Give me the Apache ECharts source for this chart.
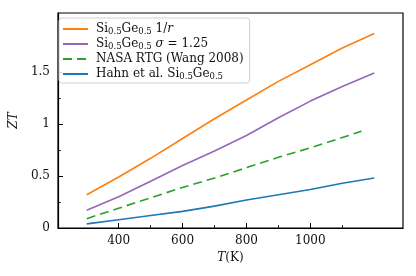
<!DOCTYPE html>
<html>
<head>
<meta charset="utf-8">
<script src="https://cdn.jsdelivr.net/npm/echarts@6/dist/echarts.min.js"></script>
<style>html,body{margin:0;padding:0;background:#fff}#c{width:416px;height:276px}</style>
</head>
<body>
<div id="c"></div>
<script>
const temps = [300, 400, 500, 600, 700, 800, 900, 1000, 1100, 1200];
const tempsNasa = [300, 400, 500, 600, 700, 800, 900, 1000, 1100, 1160];
const ztInvR = [0.32, 0.49, 0.67, 0.86, 1.05, 1.23, 1.41, 1.57, 1.73, 1.87];
const ztSigma = [0.17, 0.30, 0.45, 0.60, 0.74, 0.89, 1.06, 1.22, 1.36, 1.49];
const ztNasa = [0.09, 0.19, 0.29, 0.39, 0.48, 0.58, 0.68, 0.77, 0.87, 0.93];
const ztHahn = [0.04, 0.08, 0.12, 0.16, 0.21, 0.27, 0.32, 0.37, 0.43, 0.48];
const xMajorTicks = [400, 600, 800, 1000];
const xMinorTicks = [500, 700, 900, 1100];
const yMajorTicks = [0, 0.5, 1, 1.5];
const yMinorTicks = [0.25, 0.75, 1.25];
const seriesNames = ['SiGe 1/r', 'SiGe sigma', 'NASA RTG (Wang 2008)', 'Hahn et al. SiGe'];
const legendLabels = {
  'SiGe 1/r': 'Si{sub|0.5}Ge{sub|0.5} 1/{it|r}',
  'SiGe sigma': 'Si{sub|0.5}Ge{sub|0.5} {it|σ} = 1.25',
  'NASA RTG (Wang 2008)': 'NASA RTG (Wang 2008)',
  'Hahn et al. SiGe': 'Hahn et al. Si{sub|0.5}Ge{sub|0.5}'
};
const colors = ['#ff7f0e', '#9467bd', '#2ca02c', '#1f77b4'];

const font = 'DejaVu Serif';
const pair = (xs, ys) => xs.map((x, i) => [x, ys[i]]);

const chart = echarts.init(document.getElementById('c'), null, {renderer: 'canvas'});
const mkSeries = (name, xs, ys, color, dashed) => ({
  name, type: 'line', data: pair(xs, ys), symbol: 'none', smooth: false,
  lineStyle: {color, width: 1.6, type: dashed ? [9, 5] : 'solid'},
  itemStyle: {color}, xAxisIndex: 0, yAxisIndex: 0, animation: false, z: 3
});
chart.setOption({
  animation: false,
  color: colors,
  grid: {left: 53, right: 13, top: 13, bottom: 48, show: true, borderColor: '#000', borderWidth: 1.2, backgroundColor: 'transparent'},
  legend: {
    left: 59, top: 18, orient: 'vertical',
    padding: [4, 6, 2, 3],
    itemWidth: 25, itemHeight: 12, itemGap: 1,
    borderColor: '#d0d0d0', borderWidth: 1, borderRadius: 3,
    backgroundColor: 'rgba(255,255,255,0.85)',
    itemStyle: {opacity: 0},
    data: seriesNames,
    formatter: n => legendLabels[n],
    textStyle: {
      fontFamily: font, fontSize: 12, color: '#111', lineHeight: 14, padding: [0, 0, 0, 3],
      rich: {
        sub: {fontFamily: font, fontSize: 8.5, color: '#111', verticalAlign: 'bottom', lineHeight: 6},
        it: {fontFamily: font, fontSize: 12, fontStyle: 'italic', color: '#111'}
      }
    }
  },
  xAxis: [{
    type: 'value', min: 210, max: 1290,
    name: '{it|T}(K)', nameLocation: 'middle', nameGap: 22,
    nameTextStyle: {fontFamily: font, fontSize: 12, color: '#111', rich: {it: {fontFamily: font, fontSize: 12, fontStyle: 'italic', color: '#111'}}},
    axisLine: {show: true, lineStyle: {color: '#000', width: 1.2}},
    axisTick: {show: true, inside: true, length: 5, customValues: xMajorTicks, lineStyle: {color: '#000', width: 1}},
    axisLabel: {customValues: xMajorTicks, formatter: v => String(v), fontFamily: font, fontSize: 12, color: '#111', margin: 7},
    splitLine: {show: false}
  }, {
    type: 'value', min: 210, max: 1290, position: 'bottom',
    axisLine: {show: false},
    axisTick: {show: true, inside: true, length: 3, customValues: xMinorTicks, lineStyle: {color: '#000', width: 0.8}},
    axisLabel: {show: false}, splitLine: {show: false}
  }],
  yAxis: [{
    type: 'value', min: 0, max: 2.067,
    name: '{it|ZT}', nameLocation: 'middle', nameGap: 30,
    nameTextStyle: {fontFamily: font, fontSize: 12, color: '#111', rich: {it: {fontFamily: font, fontSize: 12, fontStyle: 'italic', color: '#111'}}},
    axisLine: {show: true, lineStyle: {color: '#000', width: 1.2}},
    axisTick: {show: true, inside: true, length: 5, customValues: yMajorTicks, lineStyle: {color: '#000', width: 1}},
    axisLabel: {customValues: yMajorTicks, formatter: v => String(v), fontFamily: font, fontSize: 12, color: '#111', margin: 8},
    splitLine: {show: false}
  }, {
    type: 'value', min: 0, max: 2.067, position: 'left',
    axisLine: {show: false},
    axisTick: {show: true, inside: true, length: 3, customValues: yMinorTicks, lineStyle: {color: '#000', width: 0.8}},
    axisLabel: {show: false}, splitLine: {show: false}
  }],
  series: [
    mkSeries(seriesNames[0], temps, ztInvR, colors[0], false),
    mkSeries(seriesNames[1], temps, ztSigma, colors[1], false),
    mkSeries(seriesNames[2], tempsNasa, ztNasa, colors[2], true),
    mkSeries(seriesNames[3], temps, ztHahn, colors[3], false)
  ]
});
</script>
</body>
</html>
